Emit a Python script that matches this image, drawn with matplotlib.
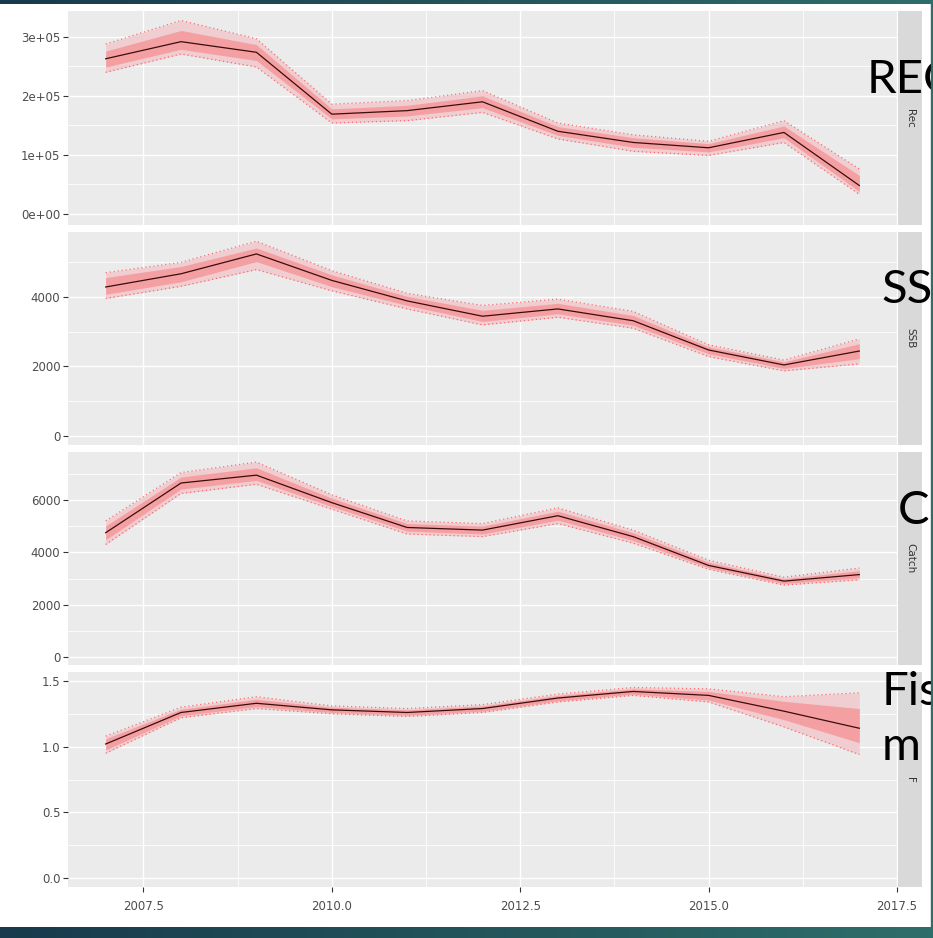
import numpy as np
import matplotlib
matplotlib.use("Agg")
from matplotlib import pyplot as plt
from matplotlib.patches import Rectangle

# data (median, 50% band, 90% band)
years = [2007, 2008, 2009, 2010, 2011, 2012, 2013, 2014, 2015, 2016, 2017]

rec_med = [263000, 292000, 274000, 169000, 175000, 190000, 140000, 121000, 112000, 138000, 48000]
rec_lo50 = [249000, 279000, 260000, 161000, 166000, 180000, 133000, 113000, 105000, 129000, 38000]
rec_hi50 = [276000, 311000, 287000, 178000, 184000, 200000, 148000, 129000, 119000, 149000, 65000]
rec_lo90 = [240000, 271000, 249000, 154000, 158000, 172000, 127000, 106000, 99000, 121000, 33000]
rec_hi90 = [288000, 328000, 297000, 186000, 192000, 209000, 154000, 134000, 123000, 158000, 76000]

ssb_med = [4280, 4660, 5230, 4470, 3880, 3440, 3650, 3310, 2470, 2040, 2440]
ssb_lo50 = [4070, 4430, 5010, 4290, 3750, 3290, 3510, 3180, 2360, 1940, 2220]
ssb_hi50 = [4550, 4870, 5400, 4630, 4010, 3610, 3810, 3460, 2560, 2130, 2650]
ssb_lo90 = [3950, 4300, 4780, 4170, 3650, 3190, 3410, 3095, 2280, 1870, 2070]
ssb_hi90 = [4690, 4990, 5595, 4750, 4100, 3750, 3930, 3580, 2620, 2180, 2790]

catch_med = [4750, 6650, 6950, 5900, 4950, 4850, 5400, 4600, 3500, 2900, 3150]
catch_lo50 = [4480, 6420, 6750, 5750, 4810, 4700, 5230, 4450, 3410, 2810, 3030]
catch_hi50 = [5010, 6880, 7230, 6070, 5100, 5000, 5570, 4750, 3620, 2990, 3300]
catch_lo90 = [4300, 6250, 6600, 5650, 4700, 4600, 5100, 4350, 3350, 2750, 2950]
catch_hi90 = [5200, 7050, 7450, 6200, 5200, 5100, 5700, 4850, 3700, 3050, 3400]

f_med = [1.02, 1.26, 1.33, 1.28, 1.26, 1.29, 1.37, 1.42, 1.39, 1.27, 1.14]
f_lo50 = [0.975, 1.235, 1.305, 1.26, 1.24, 1.27, 1.35, 1.40, 1.355, 1.205, 1.03]
f_hi50 = [1.06, 1.285, 1.36, 1.30, 1.28, 1.31, 1.39, 1.44, 1.42, 1.345, 1.29]
f_lo90 = [0.95, 1.22, 1.29, 1.25, 1.23, 1.26, 1.34, 1.39, 1.34, 1.15, 0.94]
f_hi90 = [1.08, 1.30, 1.38, 1.31, 1.29, 1.32, 1.40, 1.45, 1.44, 1.38, 1.41]

panel_names = ["Rec", "SSB", "Catch", "F"]
x_ticks = [2007.5, 2010.0, 2012.5, 2015.0, 2017.5]
x_labels = ["2007.5", "2010.0", "2012.5", "2015.0", "2017.5"]

W, H = 933, 938
fig = plt.figure(figsize=(W / 100, H / 100), dpi=100)
fig.patch.set_facecolor("white")

panels = [
    (rec_med, rec_lo50, rec_hi50, rec_lo90, rec_hi90,
     (-19000, 344000), [0, 1e5, 2e5, 3e5], ["0e+00", "1e+05", "2e+05", "3e+05"], [5e4, 1.5e5, 2.5e5]),
    (ssb_med, ssb_lo50, ssb_hi50, ssb_lo90, ssb_hi90,
     (-260, 5860), [0, 2000, 4000], ["0", "2000", "4000"], [1000, 3000, 5000]),
    (catch_med, catch_lo50, catch_hi50, catch_lo90, catch_hi90,
     (-306, 7835), [0, 2000, 4000, 6000], ["0", "2000", "4000", "6000"], [1000, 3000, 5000, 7000]),
    (f_med, f_lo50, f_hi50, f_lo90, f_hi90,
     (-0.068, 1.568), [0, 0.5, 1.0, 1.5], ["0.0", "0.5", "1.0", "1.5"], [0.25, 0.75, 1.25]),
]
# pixel rows of each panel (top, bottom)
rows = [(11, 225), (232, 445), (452, 665), (672, 887)]
px_left, px_right, strip_right = 68, 897, 922

for i, (med, lo50, hi50, lo90, hi90, ylim, yt, ytl, ymin) in enumerate(panels):
    top, bot = rows[i]
    ax = fig.add_axes([px_left / W, 1 - bot / H, (px_right - px_left) / W, (bot - top) / H])
    ax.set_facecolor("#EBEBEB")
    for s in ax.spines.values():
        s.set_visible(False)
    ax.set_xlim(2006.5, 2017.5)
    ax.set_ylim(*ylim)
    ax.set_yticks(yt)
    ax.set_yticklabels(ytl)
    ax.set_yticks(ymin, minor=True)
    ax.set_xticks(x_ticks)
    ax.set_xticks([2008.75, 2011.25, 2013.75, 2016.25], minor=True)
    ax.grid(which="major", color="white", lw=1.0)
    ax.grid(which="minor", color="white", lw=0.6)
    ax.set_axisbelow(True)
    ax.tick_params(which="minor", length=0)
    ax.tick_params(which="major", length=3.5, width=0.8, color="#333333",
                   labelsize=8.5, labelcolor="#4D4D4D", pad=2)
    if i < 3:
        ax.tick_params(axis="x", which="major", length=0, labelbottom=False)
    else:
        ax.set_xticklabels(x_labels)
        ax.tick_params(axis="x", pad=6)

    ax.fill_between(years, lo90, hi90, color="#F0CDD0", lw=0)
    ax.fill_between(years, lo50, hi50, color="#F4A0A3", lw=0)
    ax.plot(years, lo90, color="#FF4848", lw=0.9, ls=(0, (1, 2.2)), alpha=0.75)
    ax.plot(years, hi90, color="#FF4848", lw=0.9, ls=(0, (1, 2.2)), alpha=0.75)
    ax.plot(years, med, color="#3A0C0C", lw=0.9)

    # facet strip on the right
    sx = fig.add_axes([(px_right + 1) / W, 1 - bot / H, (strip_right - px_right - 1) / W, (bot - top) / H])
    sx.set_facecolor("#D9D9D9")
    sx.set_xticks([])
    sx.set_yticks([])
    for s in sx.spines.values():
        s.set_visible(False)
    sx.text(0.5, 0.5, panel_names[i], rotation=-90, ha="center", va="center",
            fontsize=7.5, color="#333333", transform=sx.transAxes)

# slide headings that sit over the chart (cut off at the right edge, as in the slide)
big = dict(fontsize=34, color="black", family=["Lato", "DejaVu Sans"], weight="normal",
           va="baseline", ha="left")
fig.text(867 / W, 1 - 93 / H, "REC", **big)
fig.text(881 / W, 1 - 303 / H, "SS", **big)
fig.text(898 / W, 1 - 524 / H, "C", **big)
fig.text(882 / W, 1 - 705 / H, "Fis", **big)
fig.text(882 / W, 1 - 760 / H, "m", **big)

# slide frame
grad = np.linspace(0, 1, 256).reshape(1, -1)
cmap = matplotlib.colors.LinearSegmentedColormap.from_list("frame", ["#183A4C", "#2E6E6A"])
for (y0, h) in [(0, 4), (927, 11)]:
    bx = fig.add_axes([0, 1 - (y0 + h) / H, 1, h / H], zorder=20)
    bx.imshow(grad, aspect="auto", cmap=cmap, extent=[0, 1, 0, 1])
    bx.axis("off")
fig.patches.append(Rectangle((931 / W, 0), 2 / W, 1, transform=fig.transFigure,
                             color="#2E6E6A", zorder=20))

fig.savefig("out.png", dpi=100)
